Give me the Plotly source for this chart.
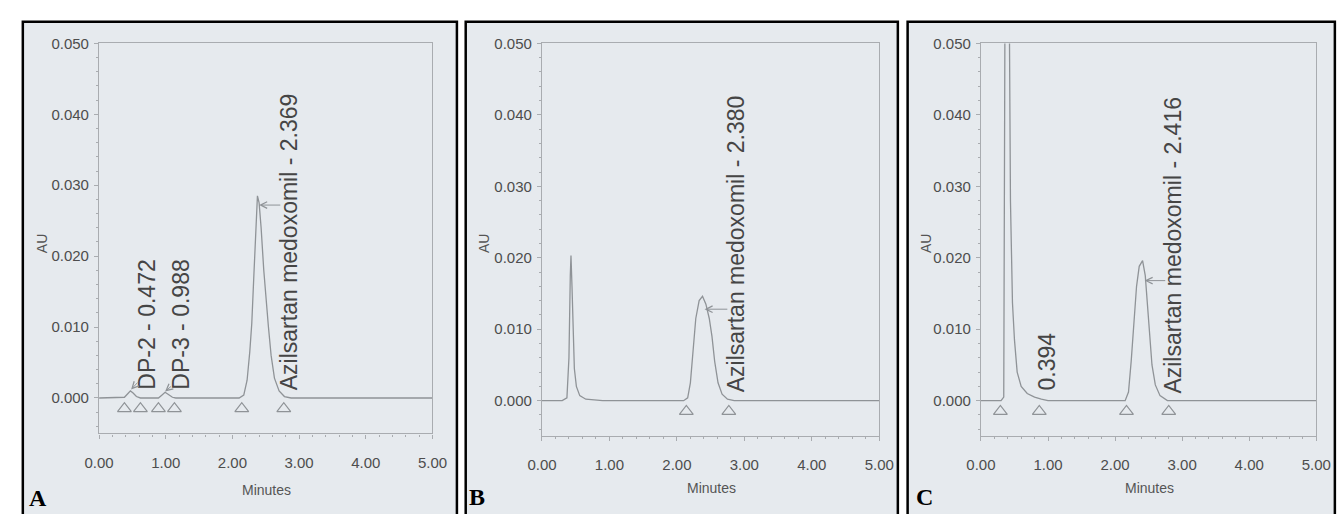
import plotly.graph_objects as go

W, H = 1344, 514

# ---------------- data ----------------
# Panel A
a_time = [0.00, 0.30, 0.38, 0.43, 0.47, 0.51, 0.56, 0.62, 0.89, 0.94, 0.99, 1.04, 1.10, 1.15,
          2.10, 2.17, 2.22, 2.26, 2.29, 2.32, 2.35, 2.375, 2.40, 2.43, 2.47, 2.51, 2.54, 2.58,
          2.63, 2.70, 2.78, 2.88, 5.00]
a_au = [0.0000, 0.0000, 0.0001, 0.0006, 0.0010, 0.0007, 0.0002, 0.0000, 0.0000, 0.0004, 0.0008,
        0.0005, 0.0001, 0.0000,
        0.0000, 0.0004, 0.0025, 0.0065, 0.0105, 0.0170, 0.0245, 0.0285, 0.0275, 0.0240, 0.0180,
        0.0130, 0.0100, 0.0060, 0.0028, 0.0010, 0.0002, 0.0000, 0.0000]
a_marks = [0.38, 0.62, 0.89, 1.13, 2.14, 2.77]
a_labels = ["DP-2 - 0.472", "DP-3 - 0.988", "Azilsartan medoxomil - 2.369"]
a_label_x = [0.72, 1.23, 2.84]
a_label_y = [0.0009, 0.0009, 0.0008]
a_apex_x = [0.48, 0.99, 2.40]
a_apex_y = [0.0012, 0.0009, 0.0272]
a_tail_x = [0.60, 1.10, 2.74]
a_tail_y = [0.0024, 0.0018, 0.0272]

# Panel B
b_time = [0.00, 0.30, 0.37, 0.40, 0.42, 0.43, 0.445, 0.46, 0.48, 0.51, 0.56, 0.65, 0.90,
          2.10, 2.16, 2.20, 2.24, 2.28, 2.33, 2.38, 2.43, 2.48, 2.52, 2.56, 2.61, 2.67, 2.75,
          2.85, 5.00]
b_au = [0.0000, 0.0000, 0.0004, 0.0060, 0.0175, 0.0203, 0.0160, 0.0090, 0.0045, 0.0020, 0.0007,
        0.0002, 0.0000,
        0.0000, 0.0004, 0.0025, 0.0070, 0.0115, 0.0140, 0.0146, 0.0135, 0.0115, 0.0090, 0.0055,
        0.0025, 0.0009, 0.0002, 0.0000, 0.0000]
b_marks = [2.14, 2.77]
b_labels = ["Azilsartan medoxomil - 2.380"]
b_label_x = [2.87]
b_label_y = [0.0009]
b_apex_x = [2.41]
b_apex_y = [0.0128]
b_tail_x = [2.77]
b_tail_y = [0.0128]

# Panel C
c_time = [0.00, 0.30, 0.34, 0.35, 0.36, 0.38, 0.40, 0.42, 0.44, 0.47, 0.50, 0.54, 0.60, 0.69,
          0.80, 0.90, 1.00,
          2.15, 2.20, 2.24, 2.28, 2.32, 2.36, 2.41, 2.45, 2.48, 2.51, 2.55, 2.60, 2.67, 2.78,
          5.00]
c_au = [0.0000, 0.0000, 0.0005, 0.0300, 0.0900, 0.1200, 0.0900, 0.0500, 0.0280, 0.0137, 0.0085,
        0.0040, 0.0020, 0.0010, 0.0005, 0.0002, 0.0000,
        0.0000, 0.0012, 0.0055, 0.0110, 0.0160, 0.0188, 0.0196, 0.0175, 0.0135, 0.0095, 0.0050,
        0.0022, 0.0007, 0.0000, 0.0000]
c_marks = [0.29, 0.87, 2.17, 2.80]
c_labels = ["0.394", "Azilsartan medoxomil - 2.416"]
c_label_x = [0.98, 2.87]
c_label_y = [0.0011, 0.0007]
c_apex_x = [None, 2.44]
c_apex_y = [None, 0.0168]
c_tail_x = [None, 2.77]
c_tail_y = [None, 0.0168]

mark_level = -0.0015
y_ticks = [0.0, 0.01, 0.02, 0.03, 0.04, 0.05]
x_ticks = [0, 1, 2, 3, 4, 5]
panel_letters = ["A", "B", "C"]

# ---------------- layout helpers ----------------
def fx(p):
    return p / W

def fy(p):
    return 1 - p / H

panels = [
    dict(border=(8, 13, 452), plot=(86, 35, 427, 432), letter=(24, 498), au=(27, 239), minutes=(257, 490),
         t=a_time, v=a_au, m=a_marks, lab=a_labels, lx=a_label_x, ly=a_label_y,
         apx=a_apex_x, apy=a_apex_y, tx=a_tail_x, ty=a_tail_y),
    dict(border=(461, 13, 903), plot=(539, 35, 884, 435), letter=(473, 497), au=(480, 239), minutes=(712, 488),
         t=b_time, v=b_au, m=b_marks, lab=b_labels, lx=b_label_x, ly=b_label_y,
         apx=b_apex_x, apy=b_apex_y, tx=b_tail_x, ty=b_tail_y),
    dict(border=(913, 13, 1350), plot=(988, 35, 1331, 435), letter=(930, 497), au=(932, 239), minutes=(1160, 488),
         t=c_time, v=c_au, m=c_marks, lab=c_labels, lx=c_label_x, ly=c_label_y,
         apx=c_apex_x, apy=c_apex_y, tx=c_tail_x, ty=c_tail_y),
]

fig = go.Figure()
shapes, annotations = [], []
axis_color = "#a9acb0"
sans = "Liberation Sans, Arial, sans-serif"
tick_font = dict(family=sans, size=15, color="#4d4d4d")
line_color = "#8f9397"

for i, p in enumerate(panels):
    n = "" if i == 0 else str(i + 1)
    xa, ya = "x" + n, "y" + n
    bx0, by0, bx1 = p["border"]
    shapes.append(dict(type="rect", xref="paper", yref="paper", x0=fx(bx0), x1=fx(bx1),
                       y0=-0.02, y1=fy(by0), line=dict(color="black", width=2.5),
                       fillcolor="#e6eaee", layer="below"))
    l, t, r, b = p["plot"]
    fig.add_trace(go.Scatter(x=p["t"], y=p["v"], mode="lines", xaxis=xa, yaxis=ya,
                             line=dict(color=line_color, width=1.3), showlegend=False,
                             hoverinfo="skip"))
    fig.add_trace(go.Scatter(x=p["m"], y=[mark_level] * len(p["m"]), mode="markers",
                             xaxis=xa, yaxis=ya, showlegend=False, hoverinfo="skip",
                             marker=dict(symbol="triangle-up-open", size=12,
                                         color="#8f9397", line=dict(width=1.2))))
    fig.layout["xaxis" + n] = dict(
        domain=[fx(l), fx(r)], anchor=ya, range=[0, 5], tickvals=x_ticks, tickformat=".2f",
        showline=True, mirror=True, linecolor=axis_color, linewidth=1.2, showgrid=False,
        zeroline=False, ticks="outside", ticklen=4, tickcolor=axis_color, tickfont=tick_font,
        ticklabelstandoff=11,
        minor=dict(dtick=0.2, ticks="outside", ticklen=2, tickcolor=axis_color))
    fig.layout["yaxis" + n] = dict(
        domain=[fy(b), fy(t)], anchor=xa, range=[-0.005, 0.050], tickvals=y_ticks,
        tickformat=".3f", showline=True, mirror=True, linecolor=axis_color, linewidth=1.2,
        showgrid=False, zeroline=False, ticks="outside", ticklen=4, tickcolor=axis_color,
        tickfont=tick_font, ticklabelstandoff=2,
        minor=dict(dtick=0.002, ticks="outside", ticklen=2, tickcolor=axis_color))
    # peak labels
    for k, txt in enumerate(p["lab"]):
        annotations.append(dict(xref=xa, yref=ya, x=p["lx"][k], y=p["ly"][k], text=txt,
                                textangle=-90, showarrow=False, xanchor="center",
                                yanchor="bottom",
                                font=dict(family=sans, size=23, color="#454545")))
        if p["apx"][k] is not None:
            annotations.append(dict(xref=xa, yref=ya, x=p["apx"][k], y=p["apy"][k],
                                    axref=xa, ayref=ya, ax=p["tx"][k], ay=p["ty"][k],
                                    text="", showarrow=True, arrowhead=5, arrowsize=1.3,
                                    arrowwidth=1, arrowcolor="#8f9397"))
    # axis titles and panel letter
    annotations.append(dict(xref="paper", yref="paper", x=fx(p["au"][0]), y=fy(p["au"][1]),
                            xanchor="center", yanchor="middle",
                            text="AU", textangle=-90, showarrow=False,
                            font=dict(family=sans, size=14, color="#555555")))
    annotations.append(dict(xref="paper", yref="paper", x=fx(p["minutes"][0]),
                            y=fy(p["minutes"][1]), xanchor="center", yanchor="middle",
                            text="Minutes", showarrow=False,
                            font=dict(family=sans, size=14, color="#555555")))
    annotations.append(dict(xref="paper", yref="paper", x=fx(p["letter"][0]),
                            y=fy(p["letter"][1]), xanchor="center", yanchor="middle",
                            text="<b>" + panel_letters[i] + "</b>",
                            showarrow=False,
                            font=dict(family="Liberation Serif, Times New Roman, serif",
                                      size=24, color="black")))

fig.update_layout(width=W, height=H, margin=dict(l=0, r=0, t=0, b=0),
                  paper_bgcolor="white", plot_bgcolor="#e4edf2",
                  shapes=shapes, annotations=annotations)

fig.write_html("out.html")
